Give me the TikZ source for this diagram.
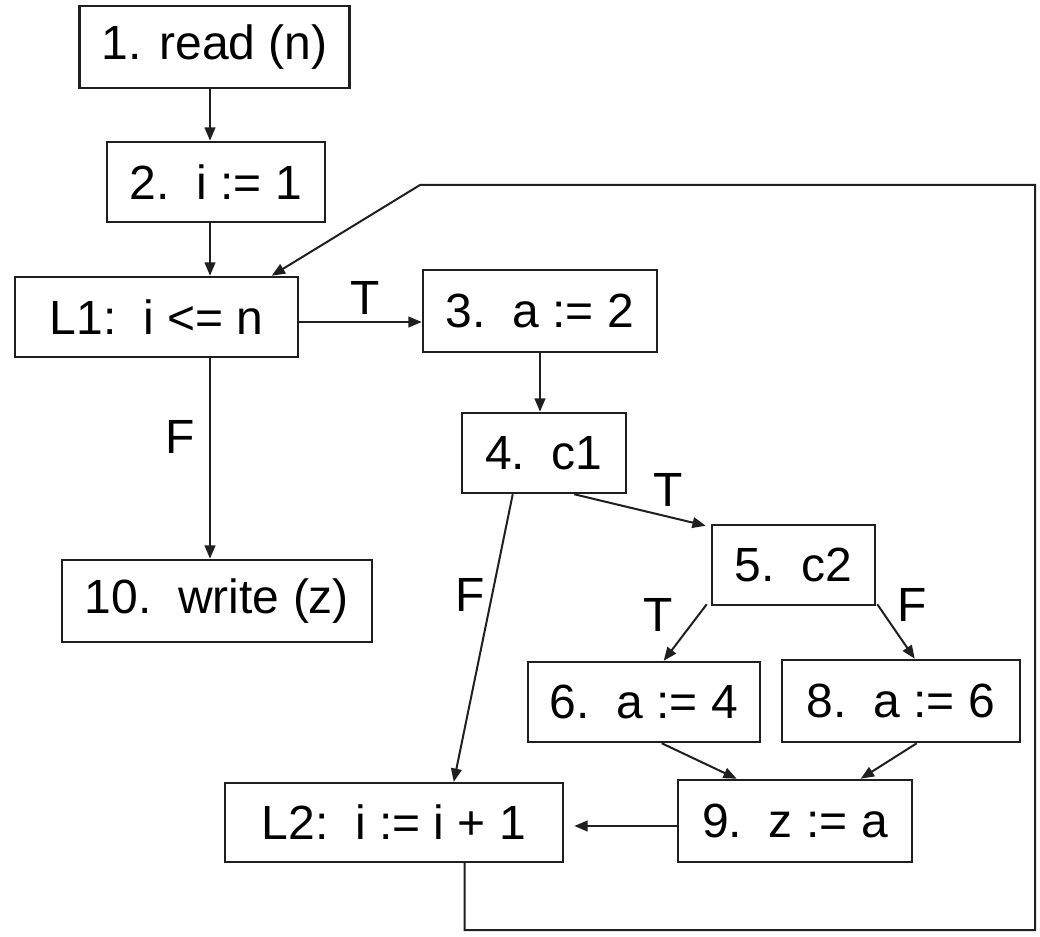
\documentclass[tikz,border=0pt]{standalone}
\usepackage{fontspec}
\setmainfont{Liberation Sans}
\usetikzlibrary{calc,arrows.meta}
\begin{document}
\begin{tikzpicture}[x=0.75pt,y=-0.75pt,
  box/.style={draw=black!88,line width=1.9pt,inner sep=0pt,
    font=\fontsize{36}{40}\selectfont},
  conn/.style={draw=black!88,line width=1.5pt,-{Triangle[length=10pt,width=8pt]}},
  lab/.style={font=\fontsize{36}{40}\selectfont,inner sep=0pt}]
\useasboundingbox (0,0) rectangle (1040,937);
\node[box,minimum width=202.5pt,minimum height=61.5pt] (n1) at (214.5,47) {1. read (n)};
\node[box,minimum width=163.5pt,minimum height=60pt] (n2) at (216,182) {2.~~i := 1};
\node[box,minimum width=212.25pt,minimum height=60pt] (L1) at (156.5,317) {L1:~~i <= n};
\node[box,minimum width=175.5pt,minimum height=61.5pt] (n3) at (540,311) {3.~~a := 2};
\node[box,minimum width=123pt,minimum height=60pt] (n4) at (544,453) {4.~~c1};
\node[box,minimum width=122.25pt,minimum height=60pt] (n5) at (793.5,565) {5.~~c2};
\node[box,minimum width=174pt,minimum height=60pt] (n6) at (644,702) {6.~~a := 4};
\node[box,minimum width=178.5pt,minimum height=61.5pt] (n8) at (901,701) {8.~~a := 6};
\node[box,minimum width=175.5pt,minimum height=61.5pt] (n9) at (795,821) {9.~~z := a};
\node[box,minimum width=253.5pt,minimum height=59pt] (L2) at (394,822.5) {L2:~~i := i + 1};
\node[box,minimum width=232.5pt,minimum height=61.5pt] (n10) at (217,601) {10.~~write (z)};
\coordinate (cx) at (210,0);
% connectors
\draw[conn] (n1.south -| cx) -- (n2.north -| cx);
\draw[conn] (n2.south -| cx) -- (L1.north -| cx);
\draw[conn] ($(L1.east)+(0,5)$) -- ($(L1.east -| n3.west)+(0,5)$);
\draw[conn] (L1.south -| cx) -- (n10.north -| cx);
\draw[conn] (n3.south) -- (n3.south |- n4.north);
\draw[conn] ($(n4.south east)+(-53,0)$) -- ($(n5.north west)+(-5,2)$);
\draw[conn] ($(n4.south west)+(52,0)$) -- ($(L2.north west)+(230,0)$);
\draw[conn] ($(n5.south west)+(-4,-2)$) -- ($(n6.north west)+(137,0)$);
\draw[conn] ($(n5.south east)+(1,-2)$) -- ($(n8.north west)+(134,0)$);
\draw[conn] ($(n6.south west)+(135,0)$) -- ($(n9.north west)+(60,0)$);
\draw[conn] ($(n8.south west)+(136,0)$) -- ($(n9.north west)+(184,0)$);
\draw[conn] ($(n9.west)+(0,5)$) -- ($(n9.west -| L2.east)+(10,5)$);
\coordinate (lp1) at (466,930);
\coordinate (lp2) at (1035,930);
\coordinate (lp3) at (1035,185);
\coordinate (lp4) at (420,185);
\draw[conn] ($(L2.south west)+(241,0)$) -- (lp1 -| {$(L2.south west)+(241,0)$}) -- (lp2) -- (lp3) -- (lp4) -- ($(L1.north west)+(258,0)$);
% labels
\node[lab] (tT1) at (365,298) {T};
\node[lab] (tF1) at (180,437) {F};
\node[lab] (tT2) at (668,490) {T};
\node[lab] (tF2) at (470,595) {F};
\node[lab] (tT3) at (658,615) {T};
\node[lab] (tF3) at (912,605) {F};
\end{tikzpicture}
\end{document}
